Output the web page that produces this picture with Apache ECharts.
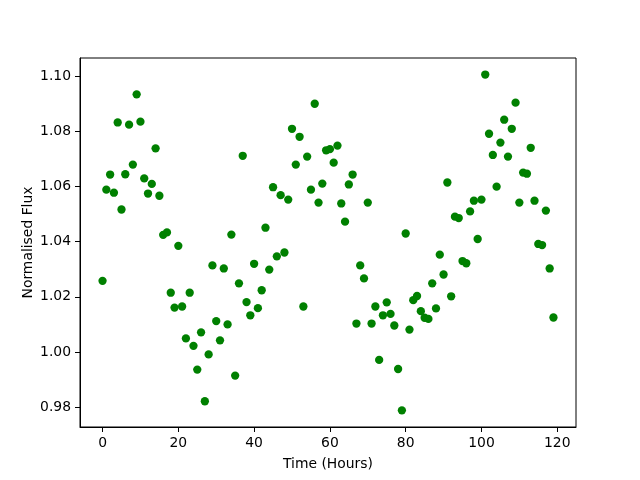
<!DOCTYPE html>
<html><head><meta charset="utf-8">
<script src="https://cdn.jsdelivr.net/npm/echarts@6/dist/echarts.min.js"></script>
<style>html,body{margin:0;padding:0;background:#fff}#c{width:640px;height:480px}</style>
</head><body><div id="c"></div>
<script>
const hours = Array.from({length: 120}, (_, i) => i);
const flux = [
1.0258,1.0589,1.0644,1.0578,1.0833,1.0517,1.0645,1.0825,1.0680,1.0935,
1.0836,1.0630,1.0575,1.0610,1.0739,1.0567,1.0425,1.0434,1.0215,1.0161,
1.0385,1.0165,1.0049,1.0215,1.0022,0.9936,1.0071,0.9821,0.9991,1.0314,
1.0112,1.0042,1.0303,1.0100,1.0426,0.9914,1.0249,1.0712,1.0181,1.0133,
1.0320,1.0159,1.0224,1.0451,1.0299,1.0598,1.0347,1.0569,1.0361,1.0553,
1.0810,1.0680,1.0781,1.0165,1.0709,1.0589,1.0901,1.0542,1.0611,1.0732,
1.0736,1.0687,1.0749,1.0539,1.0473,1.0608,1.0644,1.0103,1.0314,1.0267,
1.0542,1.0103,1.0165,0.9971,1.0133,1.0180,1.0138,1.0096,0.9938,0.9788,
1.0430,1.0081,1.0188,1.0203,1.0148,1.0124,1.0120,1.0249,1.0158,1.0353,
1.0281,1.0615,1.0202,1.0491,1.0486,1.0330,1.0322,1.0510,1.0549,1.0410,
1.0553,1.1007,1.0792,1.0715,1.0600,1.0760,1.0843,1.0709,1.0810,1.0905,
1.0542,1.0651,1.0647,1.0741,1.0549,1.0392,1.0388,1.0513,1.0303,1.0125
];
const xTicks = [0, 20, 40, 60, 80, 100, 120];
const yTicks = [0.98, 1.00, 1.02, 1.04, 1.06, 1.08, 1.10];

const chart = echarts.init(document.getElementById('c'), null, {renderer: 'canvas'});
const font = 'DejaVu Sans';
chart.setOption({
  animation: false,
  textStyle: {fontFamily: font},
  grid: {left: 80, right: 64, top: 58, bottom: 53, show: true, borderColor: '#000', borderWidth: 1, containLabel: false},
  xAxis: {
    type: 'value', min: -5.95, max: 124.95,
    name: 'Time (Hours)', nameLocation: 'middle', nameGap: 30, nameMoveOverlap: false,
    nameTextStyle: {fontFamily: font, fontSize: 13.9, color: '#000'},
    axisLine: {show: true, onZero: false, lineStyle: {color: '#000', width: 1}},
    axisTick: {show: true, inside: false, length: 5, lineStyle: {color: '#000'}, customValues: xTicks},
    axisLabel: {fontFamily: font, fontSize: 13.9, color: '#000', margin: 9, customValues: xTicks, formatter: v => String(v)},
    splitLine: {show: false}
  },
  yAxis: {
    type: 'value', min: 0.97275, max: 1.1067,
    name: 'Normalised Flux', nameLocation: 'middle', nameGap: 45, nameRotate: 90, nameMoveOverlap: false,
    nameTextStyle: {fontFamily: font, fontSize: 13.9, color: '#000'},
    axisLine: {show: true, onZero: false, lineStyle: {color: '#000', width: 1}},
    axisTick: {show: true, inside: false, length: 5, lineStyle: {color: '#000'}, customValues: yTicks},
    axisLabel: {fontFamily: font, fontSize: 13.9, color: '#000', margin: 9, customValues: yTicks, formatter: v => v.toFixed(2)},
    splitLine: {show: false}
  },
  series: [{
    type: 'scatter',
    data: hours.map((h, i) => [h, flux[i]]),
    symbol: 'circle', symbolSize: 8.3,
    itemStyle: {color: '#008000', opacity: 1},
    emphasis: {disabled: true}
  }]
});
</script></body></html>
